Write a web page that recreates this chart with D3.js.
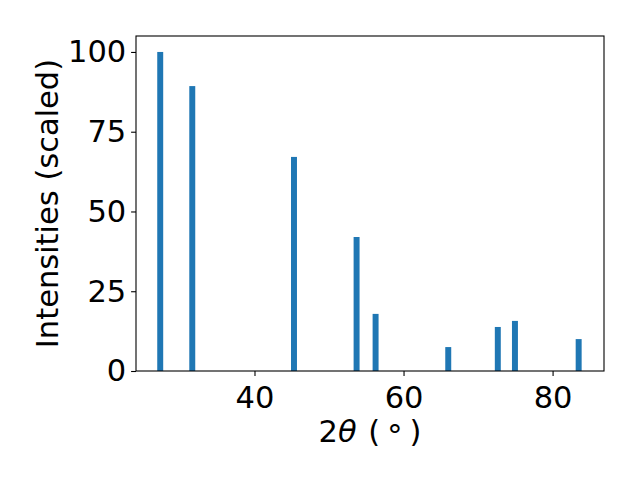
<!DOCTYPE html>
<html lang="en">
  <head>
    <meta charset="UTF-8" />
    <title>XRD peaks</title>
    <script src="https://d3js.org/d3.v7.min.js"></script>
    <style>
      body { margin: 0; background: #fff; }
      text { font-family: 'DejaVu Sans', sans-serif; fill: #000; }
    </style>
  </head>
  <body>
    <script>
      // peak positions (2 theta, degrees) and scaled intensities
      let angles = [27.35, 31.65, 45.3, 53.7, 56.25, 66.0, 72.65, 74.95, 83.5]
      let intensities = [100, 89.3, 67.1, 42.0, 17.9, 7.5, 13.8, 15.7, 10.0]
      let xTicks = [40, 60, 80]
      let yTicks = [0, 25, 50, 75, 100]

      let width = 640
      let height = 480
      let margin = { top: 36, right: 36, bottom: 109, left: 136 }
      let fontSize = 30.5
      let barWidth = 0.8

      let svg = d3.select('body')
        .append('svg')
        .attr('width', width)
        .attr('height', height)

      let x = d3.scaleLinear()
        .domain([24.1, 86.9])
        .range([margin.left, width - margin.right])

      let y = d3.scaleLinear()
        .domain([0, 105])
        .range([height - margin.bottom, margin.top])

      svg.selectAll('rect.bar')
        .data(angles)
        .enter()
        .append('rect')
        .attr('class', 'bar')
        .attr('x', (d, i) => x(d - barWidth / 2))
        .attr('width', (d, i) => x(d + barWidth / 2) - x(d - barWidth / 2))
        .attr('y', (d, i) => y(intensities[i]))
        .attr('height', (d, i) => y(0) - y(intensities[i]))
        .style('fill', '#1f77b4')

      let xAxis = svg.append('g')
        .attr('transform', `translate(0,${height - margin.bottom})`)
        .call(d3.axisBottom(x).tickValues(xTicks).tickSize(4.9).tickPadding(4.9))
      let yAxis = svg.append('g')
        .attr('transform', `translate(${margin.left},0)`)
        .call(d3.axisLeft(y).tickValues(yTicks).tickSize(4.9).tickPadding(4.9))

      for (let ax of [xAxis, yAxis]) {
        ax.select('.domain').remove()
        ax.selectAll('line').attr('stroke', '#000').attr('stroke-width', 1.1)
        ax.selectAll('text')
          .style('font-size', fontSize + 'px')
          .style('font-family', "'DejaVu Sans', sans-serif")
          .attr('fill', '#000')
      }
      xAxis.selectAll('text').attr('dy', '0.88em')

      // frame (all four spines)
      svg.append('rect')
        .attr('x', margin.left)
        .attr('y', margin.top)
        .attr('width', width - margin.left - margin.right)
        .attr('height', height - margin.top - margin.bottom)
        .style('fill', 'none')
        .style('stroke', '#000')
        .style('stroke-width', 1.1)

      // axis labels
      let xLabel = svg.append('text')
        .attr('x', (margin.left + width - margin.right) / 2)
        .attr('y', 441.5)
        .attr('text-anchor', 'middle')
        .style('font-size', fontSize + 'px')
      xLabel.append('tspan').text('2')
      xLabel.append('tspan').style('font-style', 'italic').text('θ')
      xLabel.append('tspan').attr('dx', 2).text(' (')
      xLabel.append('tspan').attr('dx', 7).attr('dy', 4).text('°')
      xLabel.append('tspan').attr('dx', 7).attr('dy', -4).text(')')

      svg.append('text')
        .attr('transform', `translate(57.5,${(margin.top + height - margin.bottom) / 2}) rotate(-90)`)
        .attr('text-anchor', 'middle')
        .style('font-size', fontSize + 'px')
        .text('Intensities (scaled)')
    </script>
  </body>
</html>
